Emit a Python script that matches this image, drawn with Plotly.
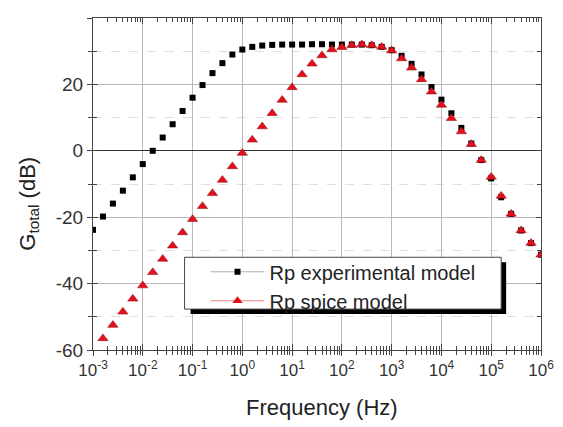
import plotly.graph_objects as go

# log10 of frequency (Hz)
exp_black = [-3.0, -2.8, -2.6, -2.4, -2.2, -2.0, -1.8, -1.6, -1.4, -1.2, -1.0,
             -0.8, -0.6, -0.4, -0.2, 0.0, 0.2, 0.4, 0.6, 0.8, 1.0,
             1.2, 1.4, 1.6, 1.8, 2.0, 2.2, 2.4, 2.6, 2.8, 3.0,
             3.2, 3.4, 3.6, 3.8, 4.0, 4.2, 4.4, 4.6, 4.8, 5.0,
             5.2, 5.4, 5.6, 5.8, 6.0]
g_experimental = [-23.8, -19.8, -15.9, -12.0, -8.0, -4.0, 0.0, 4.0, 8.0, 12.0, 16.0,
                  19.8, 23.4, 26.4, 29.0, 30.5, 31.3, 31.7, 31.9, 32.0, 32.0,
                  32.0, 32.1, 32.1, 32.0, 32.0, 32.0, 32.0, 31.8, 31.3, 30.3,
                  28.6, 26.2, 23.0, 19.2, 15.4, 11.3, 6.9, 2.2, -2.8, -8.3,
                  -14.0, -19.0, -24.0, -27.8, -31.3]

exp_red = [-2.8, -2.6, -2.4, -2.2, -2.0, -1.8, -1.6, -1.4, -1.2, -1.0,
           -0.8, -0.6, -0.4, -0.2, 0.0, 0.2, 0.4, 0.6, 0.8, 1.0,
           1.2, 1.4, 1.6, 1.8, 2.0, 2.2, 2.4, 2.6, 2.8, 3.0,
           3.2, 3.4, 3.6, 3.8, 4.0, 4.2, 4.4, 4.6, 4.8, 5.0,
           5.2, 5.4, 5.6, 5.8, 6.0]
g_spice = [-56.5, -52.5, -48.5, -44.6, -40.6, -36.6, -32.6, -28.6, -24.6, -20.6,
           -16.7, -12.8, -8.8, -4.7, -0.7, 3.3, 7.3, 11.3, 15.3, 19.1,
           23.0, 26.2, 28.7, 30.5, 31.2, 31.8, 32.0, 31.8, 31.3, 30.2,
           27.8, 25.0, 21.5, 17.8, 13.8, 9.8, 5.8, 2.0, -2.8, -7.9,
           -13.6, -19.0, -24.0, -27.8, -31.3]

x_tick_exps = [-3, -2, -1, 0, 1, 2, 3, 4, 5, 6]
x_tick_text = ["10<sup>%d</sup>" % e for e in x_tick_exps]
y_ticks = [-60, -40, -20, 0, 20, 40]
y_tick_text = [str(v) for v in y_ticks]

series_names = ["Rp experimental model", "Rp spice model"]
x_title = "Frequency (Hz)"
y_title = "G<sub>total</sub> (dB)"

f_black = [10 ** e for e in exp_black]
f_red = [10 ** e for e in exp_red]
x_tickvals = [10 ** e for e in x_tick_exps]
minor_vals = [m * 10 ** e for e in x_tick_exps[:-1] for m in range(2, 10)]

FONT = "Liberation Sans, Arial, sans-serif"
AX = "#444"

# page geometry (page has an 8px body margin)
OFF = 8
PL, PR, PT, PB = 93, 543, 17, 350
PW, PH = PR - PL, PB - PT


def px(x):
    return (x - PL) / PW


def py(y):
    return (PB - y) / PH


fig = go.Figure()
fig.add_trace(go.Scatter(x=f_black, y=g_experimental, mode="markers",
                         marker=dict(symbol="square", size=6, color="black"),
                         showlegend=False))
fig.add_trace(go.Scatter(x=f_red, y=g_spice, mode="markers",
                         marker=dict(symbol="triangle-up", size=9, color="#e3101c",
                                     line=dict(color="#8a0a10", width=0.5)),
                         showlegend=False))
# legend entries
fig.add_trace(go.Scatter(x=[None], y=[None], mode="lines+markers", name=series_names[0],
                         line=dict(color="#b0b0b0", width=1),
                         marker=dict(symbol="square", size=6, color="black")))
fig.add_trace(go.Scatter(x=[None], y=[None], mode="lines+markers", name=series_names[1],
                         line=dict(color="#f08080", width=1),
                         marker=dict(symbol="triangle-up", size=9, color="#e3101c")))
# dummy trace for the overlay (inside-tick) axes
fig.add_trace(go.Scatter(x=[None], y=[None], xaxis="x2", yaxis="y2", showlegend=False,
                         hoverinfo="skip"))

# legend shadow and box
fig.add_shape(type="rect", xref="paper", yref="paper",
              x0=px(191), x1=px(508), y0=py(314), y1=py(262),
              fillcolor="black", line=dict(width=0), layer="above")
fig.add_shape(type="rect", xref="paper", yref="paper",
              x0=px(185), x1=px(503), y0=py(309), y1=py(257),
              fillcolor="white", line=dict(color="#444", width=1), layer="above")

# axis titles
fig.add_annotation(text=x_title, xref="paper", yref="paper", x=px(323), y=py(408),
                   xanchor="center", yanchor="middle", showarrow=False,
                   font=dict(size=22, family=FONT, color="#222"))
fig.add_annotation(text=y_title, xref="paper", yref="paper", x=px(29), y=py(203),
                   xanchor="center", yanchor="middle", showarrow=False, textangle=-90,
                   font=dict(size=22, family=FONT, color="#222"))

fig.update_layout(
    width=563 - OFF, height=427 - OFF,
    margin=dict(l=PL - OFF, r=563 - PR, t=PT - OFF, b=427 - PB),
    paper_bgcolor="white", plot_bgcolor="white",
    font=dict(family=FONT, color="#222"),
    legend=dict(x=px(206), y=py(252), xanchor="left", yanchor="top",
                bgcolor="rgba(0,0,0,0)", borderwidth=0,
                font=dict(size=20, family=FONT, color="#222"),
                itemwidth=54, tracegroupgap=0),
    xaxis=dict(type="log", range=[-3, 6], tickvals=x_tickvals, ticktext=x_tick_text,
               tickfont=dict(size=17, color="#333"),
               showgrid=True, gridcolor="#b8b8b8", gridwidth=1,
               showline=True, linecolor=AX, linewidth=1, mirror=True,
               ticks="outside", ticklen=5, tickcolor=AX,
               minor=dict(tickvals=minor_vals, ticks="outside", ticklen=4, tickcolor=AX,
                          showgrid=False),
               zeroline=False),
    xaxis2=dict(type="log", range=[-3, 6], overlaying="x", anchor="y", side="bottom",
                tickvals=x_tickvals, showticklabels=False, showgrid=False, showline=False,
                mirror="allticks", ticks="inside", ticklen=6, tickcolor=AX,
                minor=dict(tickvals=minor_vals, ticks="inside", ticklen=4, tickcolor=AX,
                           showgrid=False),
                zeroline=False),
    yaxis=dict(range=[-60, 40], tickvals=y_ticks, ticktext=y_tick_text,
               tickfont=dict(size=19, color="#333"),
               showgrid=True, gridcolor="#b8b8b8", gridwidth=1,
               showline=True, linecolor=AX, linewidth=1, mirror=True,
               ticks="outside", ticklen=5, tickcolor=AX,
               minor=dict(dtick=10, tick0=0, ticks="outside", ticklen=4, tickcolor=AX,
                          showgrid=True, gridcolor="#dedede", griddash="dash"),
               zeroline=True, zerolinecolor="#333", zerolinewidth=1),
    yaxis2=dict(range=[-60, 40], overlaying="y", anchor="x", side="left",
                tickvals=y_ticks, showticklabels=False, showgrid=False, showline=False,
                mirror="allticks", ticks="inside", ticklen=5, tickcolor=AX,
                minor=dict(dtick=10, tick0=0, ticks="inside", ticklen=4, tickcolor=AX,
                           showgrid=False),
                zeroline=False),
)

fig.write_html("out.html")
